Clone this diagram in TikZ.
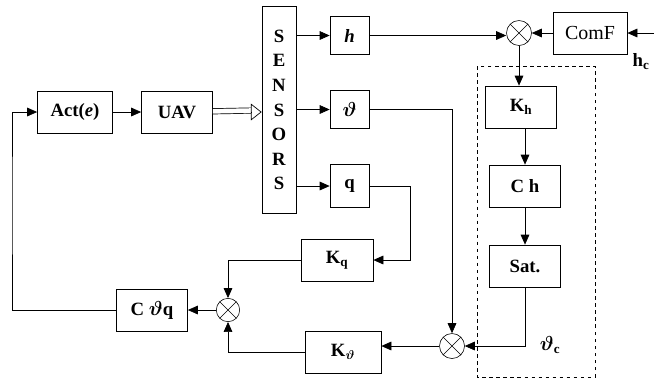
\documentclass[tikz,border=0pt]{standalone}
\usepackage{fontspec}
\setmainfont{Liberation Serif}
\usepackage{tikz}
\usetikzlibrary{arrows.meta,positioning,calc}

\begin{document}
\begin{tikzpicture}[
    x=0.03cm, y=-0.03cm,
    font=\fontsize{16}{21}\selectfont\bfseries\boldmath,
    blk/.style={draw, line width=0.6pt, minimum height=1.26cm, inner sep=2pt, align=center},
    sumnode/.style={draw, circle, line width=0.5pt, minimum size=0.75cm, inner sep=0pt,
        path picture={\draw[line width=0.4pt] (path picture bounding box.north west) -- (path picture bounding box.south east)
            (path picture bounding box.north east) -- (path picture bounding box.south west);}},
    arr/.style={-{Triangle[length=3mm,width=2.6mm]}, line width=0.6pt},
    wide/.style={double, double distance=4pt, line width=0.6pt},
    widetip/.style={-{Triangle[open,length=3.2mm,width=5mm]}, line width=0.6pt}
]
\useasboundingbox (0,0) rectangle (656,380);

% forward path
\node[blk, minimum width=2.25cm] (act) at (75,112) {Act(\textit{e})};
\node[blk, minimum width=2.13cm] (uav) at (177,112) {UAV};
\node[blk, minimum width=1.02cm, minimum height=6.21cm] (sens) at (279,110) {S\\E\\N\\S\\O\\R\\S};

\draw[arr] (act) -- (uav);
\draw[wide, shorten >=3.2mm] (uav) -- (sens);
\draw[widetip] ($(sens.west |- uav)+(-3.2mm,0)$) -- (sens.west |- uav);

% measured outputs
\node[blk, minimum width=1.17cm, minimum height=1.15cm] (h) at (349.5,35.5) {\textit{h}};
\node[blk, minimum width=1.17cm, minimum height=1.15cm] (th) at (349.5,109.5) {$\vartheta$};
\node[blk, minimum width=1.17cm, minimum height=1.3cm] (q) at (349.5,186) {q};

\draw[arr] (sens.east |- h) -- (h.west);
\draw[arr] (sens.east |- th) -- (th.west);
\draw[arr] (sens.east |- q) -- (q.west);

% altitude loop
\node[sumnode] (sumT) at (519,33) {};
\node[blk, minimum width=2.22cm, font=\fontsize{17}{21}\selectfont\mdseries] (comf) at (590,33) {ComF};
\coordinate (hcin) at (654,33);
\node (hc) at (641,62) {h\textsubscript{c}};

\draw[arr] (h.east) -- (h.east -| sumT.west);
\draw[arr] (comf.west) -- (sumT.east);
\draw[arr] (hcin) -- (comf.east);

\node[blk, minimum width=2.13cm] (kh) at (521,107) {K\textsubscript{h}};
\node[blk, minimum width=2.13cm] (ch) at (525,186) {C h};
\node[blk, minimum width=2.13cm] (sat) at (525,266) {Sat.};
\node (thc) at (550,345) {$\vartheta$\textsubscript{c}};

\draw[arr] (sumT.south) -- (sumT.south |- kh.north);
\draw[arr] (kh.south -| ch) -- (ch.north);
\draw[arr] (ch) -- (sat);

\draw[dashed, line width=0.5pt] (477,66) rectangle (595,377);

% pitch loop
\node[sumnode] (sumB) at (452,346) {};
\node[blk, minimum width=2.28cm] (kth) at (343,352) {K\textsubscript{$\vartheta$}};
\node[blk, minimum width=2.16cm] (kq) at (337,260) {K\textsubscript{q}};
\node[sumnode, minimum size=0.7cm] (sumL) at (228,310) {};
\node[blk, minimum width=2.13cm] (ctq) at (152,310) {C $\vartheta$q};
\coordinate (qturn) at (410,0);
\coordinate (fb) at (12,200);

\draw[arr] (sat.south) |- (sumB.east);
\draw[arr] (th.east) -| (sumB.north);
\draw[arr] (sumB.west) -- (sumB.west -| kth.east);
\draw[arr] (q.east) -- (q.east -| qturn) |- (kq.east);
\draw[arr] (kq.west) -| (sumL.north);
\draw[arr] (kth.west) -| (sumL.south);
\draw[arr] (sumL.west) -- (ctq.east);
\draw[arr] (ctq.west) -| (fb) |- (act.west);

\end{tikzpicture}
\end{document}
